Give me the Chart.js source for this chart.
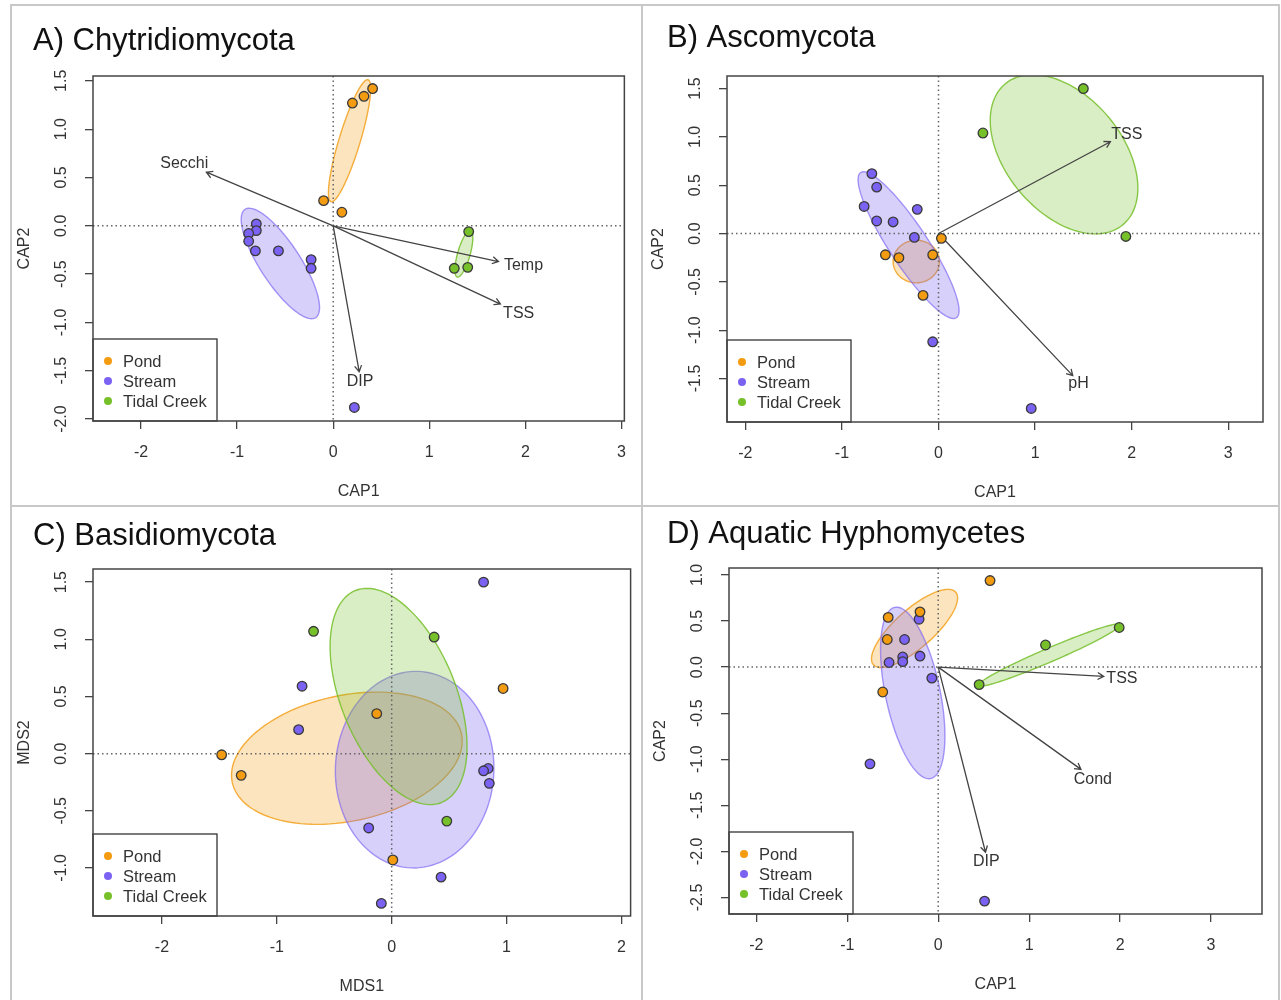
<!DOCTYPE html>
<html>
<head>
<meta charset="utf-8">
<script src="https://cdn.jsdelivr.net/npm/chart.js@4.4.0/dist/chart.umd.min.js"></script>
<style>
  body { margin: 0; background: #fff; }
  #page { position: relative; width: 1281px; height: 1000px; overflow: hidden; background: #fff; }
  .panel { position: absolute; border: 2px solid #c8c8c8; box-sizing: border-box; }
  canvas { position: absolute; }
</style>
</head>
<body>
<div id="page">
  <div class="panel" style="left:10px;top:4px;width:633px;height:503px"></div>
  <div class="panel" style="left:641px;top:4px;width:639px;height:503px"></div>
  <div class="panel" style="left:10px;top:505px;width:633px;height:510px"></div>
  <div class="panel" style="left:641px;top:505px;width:639px;height:510px"></div>
  <canvas id="cA" width="628" height="498" style="left:12px;top:6px"></canvas>
  <canvas id="cB" width="634" height="498" style="left:643px;top:6px"></canvas>
  <canvas id="cC" width="628" height="493" style="left:12px;top:507px"></canvas>
  <canvas id="cD" width="634" height="493" style="left:643px;top:507px"></canvas>
</div>
<script>
const groups = ["Pond", "Stream", "Tidal Creek"];
const groupColors = ["#F39C12", "#7B62F2", "#76C02A"];
const ellipseFill = ["rgba(243,156,18,0.27)", "rgba(123,98,242,0.3)", "rgba(118,192,42,0.27)"];
const ellipseLine = ["rgba(243,156,18,0.8)", "rgba(123,98,242,0.65)", "rgba(118,192,42,0.85)"];

// A) Chytridiomycota
const chytPondX = [0.41, 0.32, 0.20, -0.10, 0.09];
const chytPondY = [1.42, 1.34, 1.27, 0.26, 0.14];
const chytStreamX = [-0.80, -0.80, -0.88, -0.88, -0.81, -0.57, -0.23, -0.23, 0.22];
const chytStreamY = [0.02, -0.05, -0.08, -0.16, -0.26, -0.26, -0.35, -0.44, -1.88];
const chytTidalX = [1.41, 1.26, 1.40];
const chytTidalY = [-0.06, -0.44, -0.43];
// ellipses: centre x, centre y, semi-major, semi-minor, angle (deg) -- Pond, Stream, Tidal Creek
const chytEllipses = [[0.17, 0.88, 0.66, 0.11, 73], [-0.55, -0.39, 0.67, 0.21, -56.7], [1.36, -0.29, 0.25, 0.065, 74]];
const chytVectors = ["Secchi", "Temp", "TSS", "DIP"];
const chytVecX = [-1.32, 1.72, 1.74, 0.27];
const chytVecY = [0.555, -0.37, -0.81, -1.51];
const chytLabX = [-1.55, 1.98, 1.93, 0.28];
const chytLabY = [0.645, -0.41, -0.91, -1.61];

// B) Ascomycota
const ascoPondX = [0.03, -0.55, -0.41, -0.06, -0.16];
const ascoPondY = [-0.05, -0.22, -0.25, -0.22, -0.64];
const ascoStreamX = [-0.69, -0.64, -0.77, -0.64, -0.47, -0.22, -0.25, -0.06, 0.96];
const ascoStreamY = [0.62, 0.48, 0.28, 0.13, 0.12, 0.25, -0.04, -1.12, -1.81];
const ascoTidalX = [1.50, 0.46, 1.94];
const ascoTidalY = [1.50, 1.04, -0.03];
const ascoEllipses = [[-0.23, -0.29, 0.24, 0.22, 0], [-0.31, -0.12, 0.90, 0.20, -56.6], [1.30, 0.82, 0.95, 0.60, -50]];
const ascoVectors = ["TSS", "pH"];
const ascoVecX = [1.78, 1.39];
const ascoVecY = [0.95, -1.47];
const ascoLabX = [1.95, 1.45];
const ascoLabY = [1.02, -1.55];

// C) Basidiomycota
const basiPondX = [-1.48, -1.31, -0.13, 0.97, 0.01];
const basiPondY = [-0.01, -0.19, 0.35, 0.57, -0.93];
const basiStreamX = [0.80, -0.78, -0.81, 0.84, 0.80, 0.85, -0.20, 0.43, -0.09];
const basiStreamY = [1.50, 0.59, 0.21, -0.13, -0.15, -0.26, -0.65, -1.08, -1.31];
const basiTidalX = [-0.68, 0.37, 0.48];
const basiTidalY = [1.07, 1.02, -0.59];
const basiEllipses = [[-0.39, -0.04, 1.02, 0.55, 12], [0.20, -0.14, 0.86, 0.69, 88], [0.06, 0.50, 1.00, 0.50, -68]];

// D) Aquatic Hyphomycetes
const hyphPondX = [0.57, -0.55, -0.20, -0.56, -0.61];
const hyphPondY = [0.94, 0.54, 0.60, 0.30, -0.27];
const hyphStreamX = [-0.21, -0.37, -0.39, -0.39, -0.54, -0.20, -0.07, -0.75, 0.51];
const hyphStreamY = [0.52, 0.30, 0.11, 0.06, 0.05, 0.12, -0.12, -1.05, -2.54];
const hyphTidalX = [1.99, 1.18, 0.45];
const hyphTidalY = [0.43, 0.24, -0.19];
const hyphEllipses = [[-0.26, 0.42, 0.60, 0.21, 41], [-0.28, -0.28, 0.95, 0.30, 102], [1.22, 0.13, 0.85, 0.075, 23]];
const hyphVectors = ["TSS", "Cond", "DIP"];
const hyphVecX = [1.82, 1.57, 0.52];
const hyphVecY = [-0.10, -1.11, -2.01];
const hyphLabX = [2.02, 1.70, 0.53];
const hyphLabY = [-0.12, -1.22, -2.11];

// tick values
const xTicksA = [-2, -1, 0, 1, 2, 3];
const yTicksA = [-2.0, -1.5, -1.0, -0.5, 0.0, 0.5, 1.0, 1.5];
const xTicksB = [-2, -1, 0, 1, 2, 3];
const yTicksB = [-1.5, -1.0, -0.5, 0.0, 0.5, 1.0, 1.5];
const xTicksC = [-2, -1, 0, 1, 2];
const yTicksC = [-1.0, -0.5, 0.0, 0.5, 1.0, 1.5];
const xTicksD = [-2, -1, 0, 1, 2, 3];
const yTicksD = [-2.5, -2.0, -1.5, -1.0, -0.5, 0.0, 0.5, 1.0];

const FONT = '"Liberation Sans", Arial, Helvetica, sans-serif';
const INK = "#333";

function ellipsePath(ctx, xs, ys, e) {
  const [cx, cy, a, b, deg] = e;
  const th = deg * Math.PI / 180;
  ctx.beginPath();
  for (let i = 0; i <= 120; i++) {
    const t = i / 120 * 2 * Math.PI;
    const dx = a * Math.cos(t), dy = b * Math.sin(t);
    const px = xs.getPixelForValue(cx + dx * Math.cos(th) - dy * Math.sin(th));
    const py = ys.getPixelForValue(cy + dx * Math.sin(th) + dy * Math.cos(th));
    if (i === 0) ctx.moveTo(px, py); else ctx.lineTo(px, py);
  }
  ctx.closePath();
}

function arrow(ctx, x0, y0, x1, y1) {
  const ang = Math.atan2(y1 - y0, x1 - x0), h = 7;
  ctx.beginPath();
  ctx.moveTo(x0, y0);
  ctx.lineTo(x1, y1);
  ctx.moveTo(x1 - h * Math.cos(ang - Math.PI / 6), y1 - h * Math.sin(ang - Math.PI / 6));
  ctx.lineTo(x1, y1);
  ctx.lineTo(x1 - h * Math.cos(ang + Math.PI / 6), y1 - h * Math.sin(ang + Math.PI / 6));
  ctx.stroke();
}

function ordiPlugin(p) {
  return {
    id: "ordi" + p.id,
    beforeDatasetsDraw(chart) {
      const { ctx, chartArea: ca } = chart;
      const xs = chart.scales.x, ys = chart.scales.y;
      ctx.save();
      ctx.beginPath();
      ctx.rect(ca.left, ca.top, ca.right - ca.left, ca.bottom - ca.top);
      ctx.clip();
      // ellipses
      p.ellipses.forEach((e, i) => {
        ellipsePath(ctx, xs, ys, e);
        ctx.fillStyle = ellipseFill[i];
        ctx.fill();
        ctx.strokeStyle = ellipseLine[i];
        ctx.lineWidth = 1.4;
        ctx.stroke();
      });
      // dotted zero lines
      ctx.strokeStyle = "#666";
      ctx.lineWidth = 1.5;
      ctx.setLineDash([1.5, 3]);
      const x0 = xs.getPixelForValue(0), y0 = ys.getPixelForValue(0);
      ctx.beginPath();
      ctx.moveTo(ca.left, y0); ctx.lineTo(ca.right, y0);
      ctx.moveTo(x0, ca.top); ctx.lineTo(x0, ca.bottom);
      ctx.stroke();
      ctx.setLineDash([]);
      // environmental vectors
      ctx.strokeStyle = "#444";
      ctx.lineWidth = 1.3;
      ctx.fillStyle = INK;
      ctx.font = "16px " + FONT;
      ctx.textAlign = "center";
      ctx.textBaseline = "middle";
      (p.vectors || []).forEach((name, i) => {
        arrow(ctx, x0, y0, xs.getPixelForValue(p.vecX[i]), ys.getPixelForValue(p.vecY[i]));
        ctx.fillText(name, xs.getPixelForValue(p.labX[i]), ys.getPixelForValue(p.labY[i]));
      });
      ctx.restore();
    },
    afterDraw(chart) {
      const { ctx, chartArea: ca } = chart;
      const ys = chart.scales.y;
      ctx.save();
      // legend box
      const lw = 124, lh = 82;
      ctx.fillStyle = "#fff";
      ctx.fillRect(ca.left, ca.bottom - lh, lw, lh);
      ctx.strokeStyle = "#333";
      ctx.lineWidth = 1.3;
      ctx.strokeRect(ca.left, ca.bottom - lh, lw, lh);
      ctx.font = "16.5px " + FONT;
      ctx.textAlign = "left";
      ctx.textBaseline = "middle";
      groups.forEach((g, i) => {
        const yy = ca.bottom - 60 + i * 20;
        ctx.fillStyle = groupColors[i];
        ctx.beginPath();
        ctx.arc(ca.left + 15, yy, 4, 0, 2 * Math.PI);
        ctx.fill();
        ctx.fillStyle = INK;
        ctx.fillText(g, ca.left + 30, yy + 1);
      });
      // plot box
      ctx.strokeStyle = "#444";
      ctx.lineWidth = 1.5;
      ctx.strokeRect(ca.left, ca.top, ca.right - ca.left, ca.bottom - ca.top);
      // y tick labels, rotated like base R
      ctx.fillStyle = INK;
      ctx.font = "16px " + FONT;
      ctx.textAlign = "center";
      ys.ticks.forEach(t => {
        ctx.save();
        ctx.translate(ca.left - 31, ys.getPixelForValue(t.value));
        ctx.rotate(-Math.PI / 2);
        ctx.fillText(t.value.toFixed(1), 0, 0);
        ctx.restore();
      });
      // axis titles
      ctx.fillText(p.xTitle, (ca.left + ca.right) / 2, ca.bottom + 71);
      ctx.save();
      ctx.translate(ca.left - 68, (ca.top + ca.bottom) / 2);
      ctx.rotate(-Math.PI / 2);
      ctx.fillText(p.yTitle, 0, 0);
      ctx.restore();
      // panel title
      ctx.fillStyle = "#111";
      ctx.font = "31px " + FONT;
      ctx.textAlign = "left";
      ctx.textBaseline = "alphabetic";
      ctx.fillText(p.title, p.titleX, p.titleY);
      ctx.restore();
    }
  };
}

function makePanel(p) {
  const el = document.getElementById(p.id);
  const W = el.width, H = el.height;
  const [L, T, R, B] = p.frame;
  const datasets = groups.map((g, i) => ({
    label: g,
    data: p.xs[i].map((x, j) => ({ x: x, y: p.ys[i][j] })),
    backgroundColor: groupColors[i],
    borderColor: "#3a3a3a",
    borderWidth: 1.3,
    pointRadius: 4.8
  }));
  new Chart(el, {
    type: "scatter",
    data: { datasets },
    options: {
      responsive: false,
      animation: false,
      devicePixelRatio: 1,
      layout: { padding: { left: 0, top: T, right: W - R, bottom: 0 } },
      plugins: { legend: { display: false }, tooltip: { enabled: false } },
      scales: {
        x: {
          type: "linear",
          min: p.xRange[0], max: p.xRange[1],
          afterBuildTicks: s => { s.ticks = p.xTicks.map(v => ({ value: v })); },
          afterFit: s => { s.height = H - B; },
          ticks: { color: INK, font: { size: 16, family: FONT }, padding: 14, callback: v => String(v) },
          grid: { drawOnChartArea: false, tickLength: 8, color: "#444", lineWidth: 1.3 },
          border: { display: false }
        },
        y: {
          type: "linear",
          min: p.yRange[0], max: p.yRange[1],
          afterBuildTicks: s => { s.ticks = p.yTicks.map(v => ({ value: v })); },
          afterFit: s => { s.width = L; },
          ticks: { display: false },
          grid: { drawOnChartArea: false, tickLength: 8, color: "#444", lineWidth: 1.3 },
          border: { display: false }
        }
      }
    },
    plugins: [ordiPlugin(p)]
  });
}

makePanel({
  id: "cA", title: "A) Chytridiomycota", titleX: 21, titleY: 44, xTitle: "CAP1", yTitle: "CAP2",
  frame: [81, 70, 615, 415], xRange: [-2.50, 3.03], yRange: [-2.02, 1.55],
  xTicks: xTicksA, yTicks: yTicksA,
  xs: [chytPondX, chytStreamX, chytTidalX], ys: [chytPondY, chytStreamY, chytTidalY],
  ellipses: chytEllipses, vectors: chytVectors, vecX: chytVecX, vecY: chytVecY, labX: chytLabX, labY: chytLabY
});
makePanel({
  id: "cB", title: "B) Ascomycota", titleX: 24, titleY: 41, xTitle: "CAP1", yTitle: "CAP2",
  frame: [84, 70, 620, 416], xRange: [-2.19, 3.36], yRange: [-1.95, 1.63],
  xTicks: xTicksB, yTicks: yTicksB,
  xs: [ascoPondX, ascoStreamX, ascoTidalX], ys: [ascoPondY, ascoStreamY, ascoTidalY],
  ellipses: ascoEllipses, vectors: ascoVectors, vecX: ascoVecX, vecY: ascoVecY, labX: ascoLabX, labY: ascoLabY
});
makePanel({
  id: "cC", title: "C) Basidiomycota", titleX: 21, titleY: 38, xTitle: "MDS1", yTitle: "MDS2",
  frame: [81, 62, 620, 409], xRange: [-2.60, 2.08], yRange: [-1.42, 1.615],
  xTicks: xTicksC, yTicks: yTicksC,
  xs: [basiPondX, basiStreamX, basiTidalX], ys: [basiPondY, basiStreamY, basiTidalY],
  ellipses: basiEllipses
});
makePanel({
  id: "cD", title: "D) Aquatic Hyphomycetes", titleX: 24, titleY: 36, xTitle: "CAP1", yTitle: "CAP2",
  frame: [86, 61, 619, 407], xRange: [-2.30, 3.56], yRange: [-2.68, 1.076],
  xTicks: xTicksD, yTicks: yTicksD,
  xs: [hyphPondX, hyphStreamX, hyphTidalX], ys: [hyphPondY, hyphStreamY, hyphTidalY],
  ellipses: hyphEllipses, vectors: hyphVectors, vecX: hyphVecX, vecY: hyphVecY, labX: hyphLabX, labY: hyphLabY
});
</script>
</body>
</html>
